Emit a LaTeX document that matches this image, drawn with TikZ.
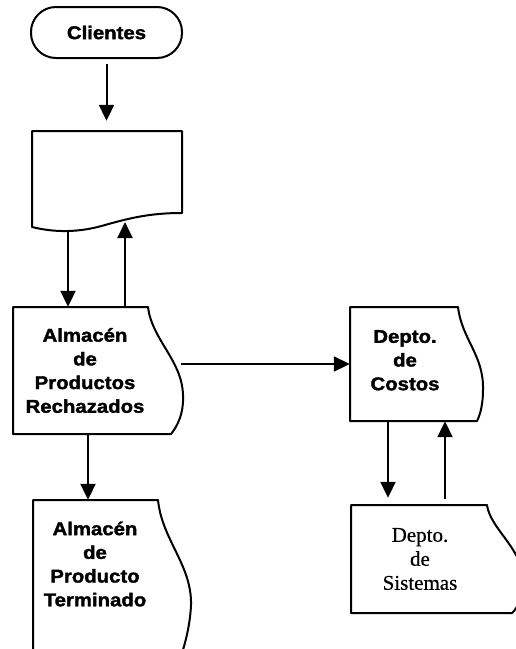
\documentclass[tikz,border=0pt]{standalone}
\usepackage{fontspec}
\newfontfamily\boxfont{Liberation Sans}[FakeStretch=1.1, FakeBold=1.8]
\newfontfamily\serfont{Liberation Serif}[FakeBold=0.6]
\usetikzlibrary{arrows.meta,calc}
\tikzset{
  outline/.style={line width=2pt, line join=round},
  arr/.style={line width=2pt, -{Triangle[width=15pt,length=16pt]}},
  lbl/.style={inner sep=0pt, align=center, font=\boxfont\bfseries\fontsize{18.5}{23.7}\selectfont},
  slbl/.style={inner sep=0pt, align=center, font=\serfont\fontsize{21}{24}\selectfont},
  area/.style={inner sep=0pt, rectangle}
}
\begin{document}
\begin{tikzpicture}[x=1pt,y=-1pt]
\useasboundingbox (0,0) rectangle (516,649);
\clip (0,0) rectangle (516,649);
% Clientes (terminal)
\node[lbl, area, draw, line width=2pt, rounded corners=25pt, minimum width=151pt, minimum height=51pt] (cli) at (106.5,32.5) {Clientes};
% Document (empty)
\node[area, minimum width=150pt, minimum height=100pt] (doc) at (107,181) {};
\draw[outline] (32,227) -- (32,131) -- (182,131) -- (182,213)
  .. controls (150,213) and (130,218) .. (105,225)
  .. controls (85,231) and (60,234) .. (32,227) -- cycle;
% Almacen de Productos Rechazados
\node[lbl, area, minimum width=144pt, minimum height=127pt] (rech) at (85,370.5) {Almac\'en\\de\\Productos\\Rechazados};
\draw[outline] (13,434) -- (13,307) -- (148,307)
  .. controls (152,340) and (182,360) .. (183,395)
  .. controls (184,415) and (176,428) .. (171,434) -- cycle;
% Depto. de Costos
\node[lbl, area, minimum width=110pt, minimum height=114pt] (cost) at (405,364) {Depto.\\de\\Costos\\[-16pt]};
\draw[outline] (350,421) -- (350,307) -- (458,307)
  .. controls (462,340) and (484,355) .. (483,390)
  .. controls (483,405) and (480,415) .. (477,421) -- cycle;
% Depto. de Sistemas
\node[slbl, area, minimum width=138pt, minimum height=108pt] (sis) at (420,559) {Depto.\\de\\Sistemas};
\draw[outline] (351,613) -- (351,505) -- (487,505)
  .. controls (490,528) and (521,548) .. (522,575)
  .. controls (523,596) and (518,608) .. (512,613) -- cycle;
% Almacen de Producto Terminado
\node[lbl, area, minimum width=124pt, minimum height=128pt] (term) at (95,564) {Almac\'en\\de\\Producto\\Terminado};
\draw[outline] (33,670) -- (33,500) -- (158,500)
  .. controls (162,540) and (192,565) .. (191,605)
  .. controls (190,630) and (182,655) .. (176,670);
% connectors
\draw[arr, shorten <=5pt, shorten >=10pt] (cli.south) -- (cli.south |- doc.north);
\draw[arr] ([xshift=-39pt]doc.south) -- ([xshift=-39pt]doc.south |- rech.north);
\draw[arr] ([xshift=40pt]rech.north) -- ([xshift=40pt]rech.north |- 0,222);
\draw[arr] ([xshift=24pt]rech.east |- cost.west) -- (cost.west);
\draw[arr] ([xshift=3pt]rech.south) -- ([xshift=3pt]rech.south |- term.north);
\draw[arr] ([xshift=-17pt]cost.south) -- ([xshift=-17pt,yshift=7pt]cost.south |- sis.north);
\draw[arr] ([xshift=40pt,yshift=6pt]cost.south |- sis.north) -- ([xshift=40pt]cost.south);
\end{tikzpicture}
\end{document}
